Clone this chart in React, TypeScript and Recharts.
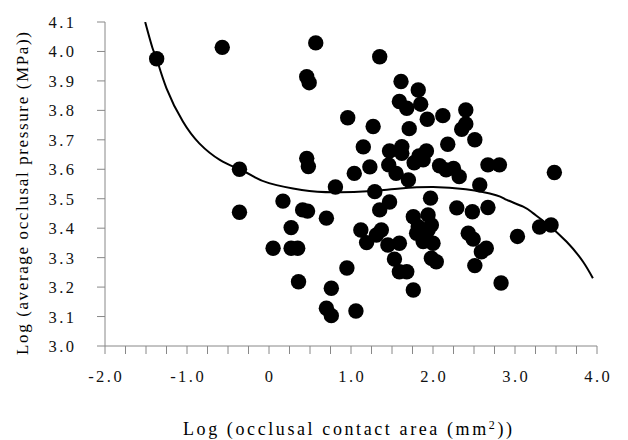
import React from 'react';
import { ComposedChart, XAxis, YAxis, Scatter, Line, Label } from 'recharts';

// observed points: log(occlusal contact area) vs log(average occlusal pressure)
const areaLog = [
  -1.37, -0.57, -0.36, -0.36, 0.05, 0.17, 0.27, 0.27, 0.35, 0.36,
  0.41, 0.47, 0.46, 0.49, 0.46, 0.48, 0.57, 0.70, 0.70, 0.76,
  0.76, 0.81, 0.95, 0.96, 1.04, 1.06, 1.12, 1.15, 1.19, 1.23,
  1.27, 1.31, 1.29, 1.35, 1.35, 1.37, 1.45, 1.47, 1.46, 1.47,
  1.53, 1.55, 1.61, 1.59, 1.59, 1.59, 1.68, 1.62, 1.62, 1.68,
  1.70, 1.71, 1.76, 1.76, 1.77, 1.82, 1.83, 1.82, 1.80, 1.85,
  1.88, 1.88, 1.92, 1.93, 1.94, 1.94, 1.98, 1.97, 2.00, 1.98,
  2.04, 2.08, 2.16, 2.12, 2.18, 2.25, 2.32, 2.29, 2.35, 2.40,
  2.40, 2.43, 2.49, 2.48, 2.51, 2.51, 2.57, 2.59, 2.65, 2.67,
  2.81, 2.67, 2.83, 3.03, 3.30, 3.44, 3.48,
];
const pressureLog = [
  3.975, 4.014, 3.600, 3.454, 3.332, 3.492, 3.402, 3.332, 3.332, 3.218,
  3.462, 3.458, 3.914, 3.894, 3.637, 3.609, 4.029, 3.434, 3.128, 3.103,
  3.196, 3.540, 3.265, 3.775, 3.586, 3.119, 3.394, 3.676, 3.351, 3.608,
  3.745, 3.377, 3.524, 3.982, 3.462, 3.394, 3.343, 3.662, 3.615, 3.489,
  3.295, 3.586, 3.898, 3.830, 3.349, 3.252, 3.252, 3.677, 3.654, 3.807,
  3.564, 3.738, 3.439, 3.190, 3.622, 3.869, 3.645, 3.405, 3.383, 3.821,
  3.632, 3.355, 3.662, 3.770, 3.445, 3.394, 3.411, 3.502, 3.349, 3.298,
  3.286, 3.612, 3.598, 3.782, 3.685, 3.603, 3.575, 3.469, 3.736, 3.754,
  3.801, 3.383, 3.363, 3.456, 3.700, 3.273, 3.547, 3.320, 3.332, 3.615,
  3.615, 3.470, 3.214, 3.372, 3.404, 3.411, 3.589,
];

// fitted curve
const fitArea = [
  -1.51, -1.42, -1.37, -1.25, -1.05, -0.85, -0.60, -0.36, -0.18, 0.0,
  0.4, 0.8, 1.2, 1.6, 2.0, 2.4, 2.77, 2.9, 3.1, 3.22, 3.38, 3.63, 3.83, 3.95,
];
const fitPressure = [
  4.10, 4.011, 3.975, 3.875, 3.762, 3.688, 3.632, 3.600, 3.574, 3.553,
  3.530, 3.522, 3.525, 3.535, 3.540, 3.532, 3.512, 3.496, 3.473, 3.451, 3.417, 3.354, 3.286, 3.230,
];

const xTicks = [-2, -1.75, -1.5, -1.25, -1, -0.75, -0.5, -0.25, 0, 0.25, 0.5, 0.75, 1, 1.25, 1.5, 1.75, 2, 2.25, 2.5, 2.75, 3, 3.25, 3.5, 3.75, 4];
const xTickLabels = ['-2.0', '', '', '', '-1.0', '', '', '', '0', '', '', '', '1.0', '', '', '', '2.0', '', '', '', '3.0', '', '', '', '4.0'];
const yTicks = [3.0, 3.1, 3.2, 3.3, 3.4, 3.5, 3.6, 3.7, 3.8, 3.9, 4.0, 4.1];
const yTickLabels = ['3.0', '3.1', '3.2', '3.3', '3.4', '3.5', '3.6', '3.7', '3.8', '3.9', '4.0', '4.1'];

const xTitle = 'Log (occlusal contact area (mm';
const yTitle = 'Log (average occlusal pressure (MPa))';

const scatterData = areaLog.map((x, i) => ({ x, y: pressureLog[i] }));
const fitData = fitArea.map((x, i) => ({ x, y: fitPressure[i] }));

const AXIS = '#888';
const FONT = 'Liberation Serif';

const XTick = (props: any) => {
  const { x, payload, index } = props;
  const idx = typeof index === 'number' ? index : xTicks.indexOf(payload.value);
  const label = xTickLabels[idx] || '';
  if (!label) return <g />;
  return (
    <text x={x + 1.2} y={374} textAnchor="middle" fontFamily={FONT} fontSize={16.5} letterSpacing={2.5} fill="#111">
      {label}
    </text>
  );
};

const YTick = (props: any) => {
  const { y, payload, index } = props;
  const idx = typeof index === 'number' ? index : yTicks.indexOf(payload.value);
  const label = yTickLabels[idx] || '';
  return (
    <text x={68.5} y={y + 6} textAnchor="end" fontFamily={FONT} fontSize={16.5} letterSpacing={2.5} fill="#111">
      {label}
    </text>
  );
};

const Dot = (props: any) => {
  const { cx, cy } = props;
  if (cx == null || cy == null) return <g />;
  return <circle cx={cx} cy={cy} r={7.7} fill="#000" />;
};

export default function App() {
  return (
    <ComposedChart width={620} height={432} margin={{ top: 14, right: 31, bottom: 0, left: 0 }}>
      <XAxis
        type="number"
        dataKey="x"
        domain={[-2, 4]}
        ticks={xTicks}
        interval={0}
        allowDataOverflow
        height={94}
        tickSize={8}
        axisLine={{ stroke: AXIS }}
        tickLine={{ stroke: AXIS }}
        tick={<XTick />}
      >
        <Label
          content={() => (
            <text
              x={175}
              y={427}
              textAnchor="start"
              fontFamily={FONT}
              fontSize={18}
              textLength={329}
              lengthAdjust="spacing"
              fill="#000"
            >
              {xTitle}
              <tspan dy={-6} fontSize={12}>2</tspan>
              <tspan dy={6}>))</tspan>
            </text>
          )}
        />
      </XAxis>
      <YAxis
        type="number"
        dataKey="y"
        domain={[3, 4.1]}
        ticks={yTicks}
        interval={0}
        allowDataOverflow
        width={97}
        tickSize={8}
        axisLine={{ stroke: AXIS }}
        tickLine={{ stroke: AXIS }}
        tick={<YTick />}
      >
        <Label
          content={() => (
            <text
              transform="translate(20,347) rotate(-90)"
              x={0}
              y={0}
              textAnchor="start"
              fontFamily={FONT}
              fontSize={17}
              textLength={323}
              lengthAdjust="spacing"
              fill="#000"
            >
              {yTitle}
            </text>
          )}
        />
      </YAxis>
      <Scatter data={scatterData} dataKey="y" shape={<Dot />} isAnimationActive={false} />
      <Line
        data={fitData}
        dataKey="y"
        type="natural"
        stroke="#000"
        strokeWidth={2}
        dot={false}
        activeDot={false}
        isAnimationActive={false}
      />
    </ComposedChart>
  );
}
